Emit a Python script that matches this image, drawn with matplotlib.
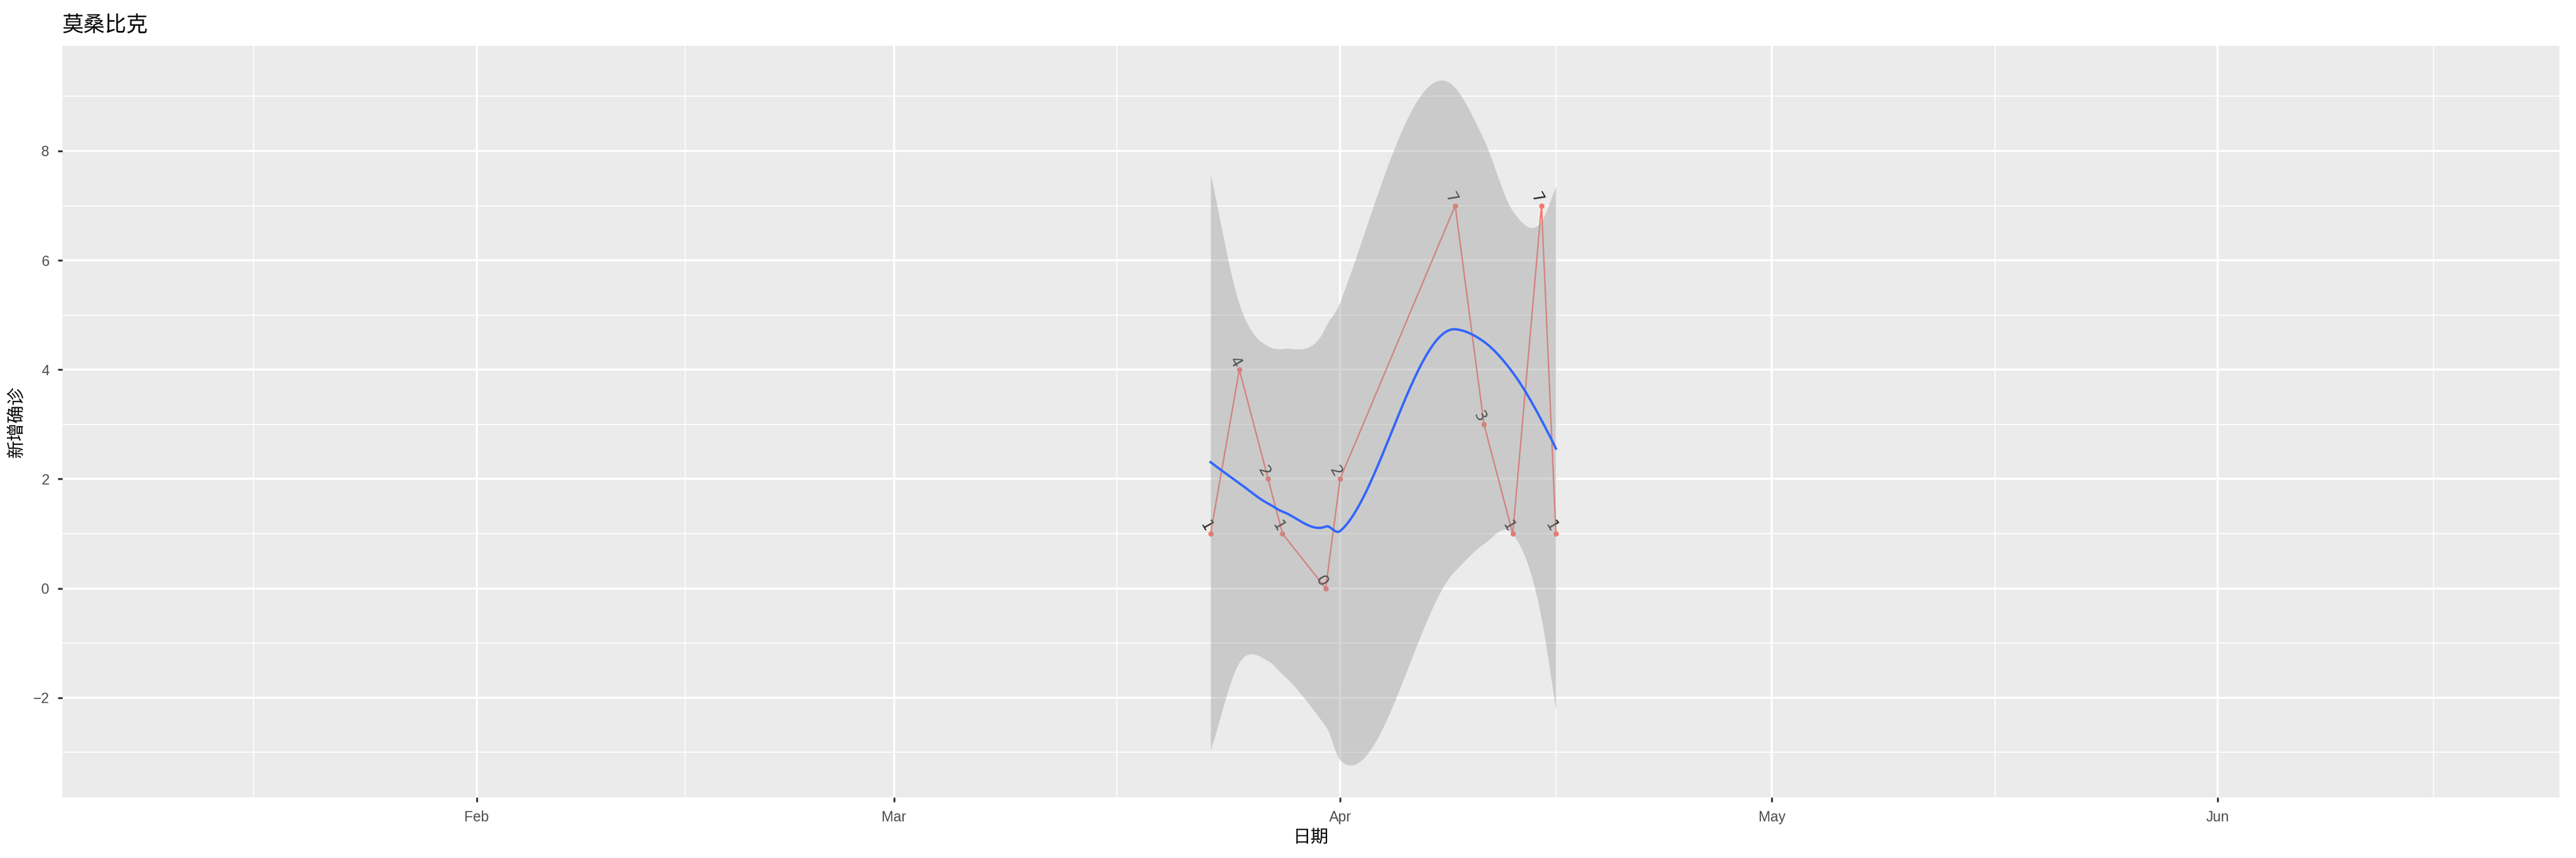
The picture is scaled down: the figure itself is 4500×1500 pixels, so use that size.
import numpy as np
import matplotlib
matplotlib.use("Agg")
import matplotlib.pyplot as plt
import matplotlib.dates as mdates
import datetime as dt

plt.rcParams['font.family'] = ['Noto Sans CJK SC', 'DejaVu Sans']

dates = ["2020-03-23","2020-03-25","2020-03-27","2020-03-28","2020-03-31","2020-04-01",
         "2020-04-09","2020-04-11","2020-04-13","2020-04-15","2020-04-16"]
values = [1, 4, 2, 1, 0, 2, 7, 3, 1, 7, 1]
title = "莫桑比克"
xlabel = "日期"
ylabel = "新增确诊"

d = [dt.datetime.strptime(s, "%Y-%m-%d") for s in dates]
x = mdates.date2num(d)
y = np.array(values, float)

def loess(x, y, xs, span=0.75):
    n = len(x)
    q = int(np.floor(n * span))
    def rows(x0):
        dist = np.abs(x - x0)
        h = np.sort(dist)[q - 1]
        w = np.clip(1 - (dist / h) ** 3, 0, None) ** 3
        X = np.vstack([np.ones(n), x - x0, (x - x0) ** 2]).T
        W = np.diag(w)
        A = np.linalg.pinv(X.T @ W @ X) @ X.T @ W
        return A[0], A[1]
    L = np.array([rows(v)[0] for v in x])
    R = np.eye(n) - L
    M = R.T @ R
    d1 = np.trace(M)
    sigma = np.sqrt(np.sum((R @ y) ** 2) / d1)
    vx = np.unique(x)
    V0 = np.array([rows(v)[0] for v in vx])
    V1 = np.array([rows(v)[1] for v in vx])
    f0 = V0 @ y; f1 = V1 @ y
    s0 = sigma * np.sqrt(np.sum(V0 ** 2, axis=1))
    s1 = np.gradient(s0, vx)
    def herm(v0, v1, xq):
        out = np.empty_like(xq)
        for k, xx in enumerate(xq):
            i = min(np.searchsorted(vx, xx, side='right') - 1, len(vx) - 2)
            i = max(i, 0)
            hh = vx[i + 1] - vx[i]
            t = (xx - vx[i]) / hh
            h00 = 2*t**3 - 3*t**2 + 1; h10 = t**3 - 2*t**2 + t
            h01 = -2*t**3 + 3*t**2; h11 = t**3 - t**2
            out[k] = h00*v0[i] + h10*hh*v1[i] + h01*v0[i+1] + h11*hh*v1[i+1]
        return out
    return herm(f0, f1, xs), herm(s0, s1, xs)

xs = np.linspace(x.min(), x.max(), 400)
fit, se = loess(x, y, xs)
tq = 2.4

fig = plt.figure(figsize=(15, 5), dpi=300)
ax = fig.add_axes([38/1568, (522-485)/522, (1558-38)/1568, (485-28)/522])
ax.set_facecolor('#EBEBEB')
ax.plot(x, y, color='#F8766D', lw=0.6, zorder=3)
ax.scatter(x, y, color='#F8766D', s=5, lw=0, zorder=4)
for xi, yi in zip(x, y):
    ax.annotate(f"{int(yi)}", (xi, yi), xytext=(-2, 3), textcoords='offset points',
                rotation=-60, ha='center', va='center', fontsize=6.5,
                family='DejaVu Sans', color='#222222', zorder=5)
ax.fill_between(xs, fit - tq * se, fit + tq * se, color='#999999', alpha=0.4, lw=0, zorder=6)
ax.plot(xs, fit, color='#3366FF', lw=1.0, zorder=7)

ax.set_xlim(mdates.date2num(dt.datetime(2020, 1, 3, 5)), mdates.date2num(dt.datetime(2020, 6, 24, 18)))
ax.set_ylim(-3.82, 9.92)
months = [mdates.date2num(dt.datetime(2020, m, 1)) for m in range(1, 8)]
ax.set_xticks(months[1:6])
ax.set_xticklabels(["Feb", "Mar", "Apr", "May", "Jun"])
ax.set_xticks([(a + b) / 2 for a, b in zip(months[:-1], months[1:])], minor=True)
ax.set_yticks([-2, 0, 2, 4, 6, 8])
ax.set_yticks([-3, -1, 1, 3, 5, 7, 9], minor=True)
ax.grid(which='major', color='white', lw=0.9)
ax.grid(which='minor', color='white', lw=0.45)
ax.set_axisbelow(True)
for s in ax.spines.values():
    s.set_visible(False)
ax.tick_params(which='both', length=2, color='#333333', labelsize=6, labelcolor='#4D4D4D')
ax.tick_params(which='minor', length=0)
for lab in ax.get_xticklabels() + ax.get_yticklabels():
    lab.set_family('Liberation Sans')
ax.set_xlabel(xlabel, fontsize=7.5, labelpad=2)
ax.set_ylabel(ylabel, fontsize=7.5, labelpad=3)
ax.set_title(title, loc='left', fontsize=9, pad=6)
fig.savefig("out.png", dpi=300)
